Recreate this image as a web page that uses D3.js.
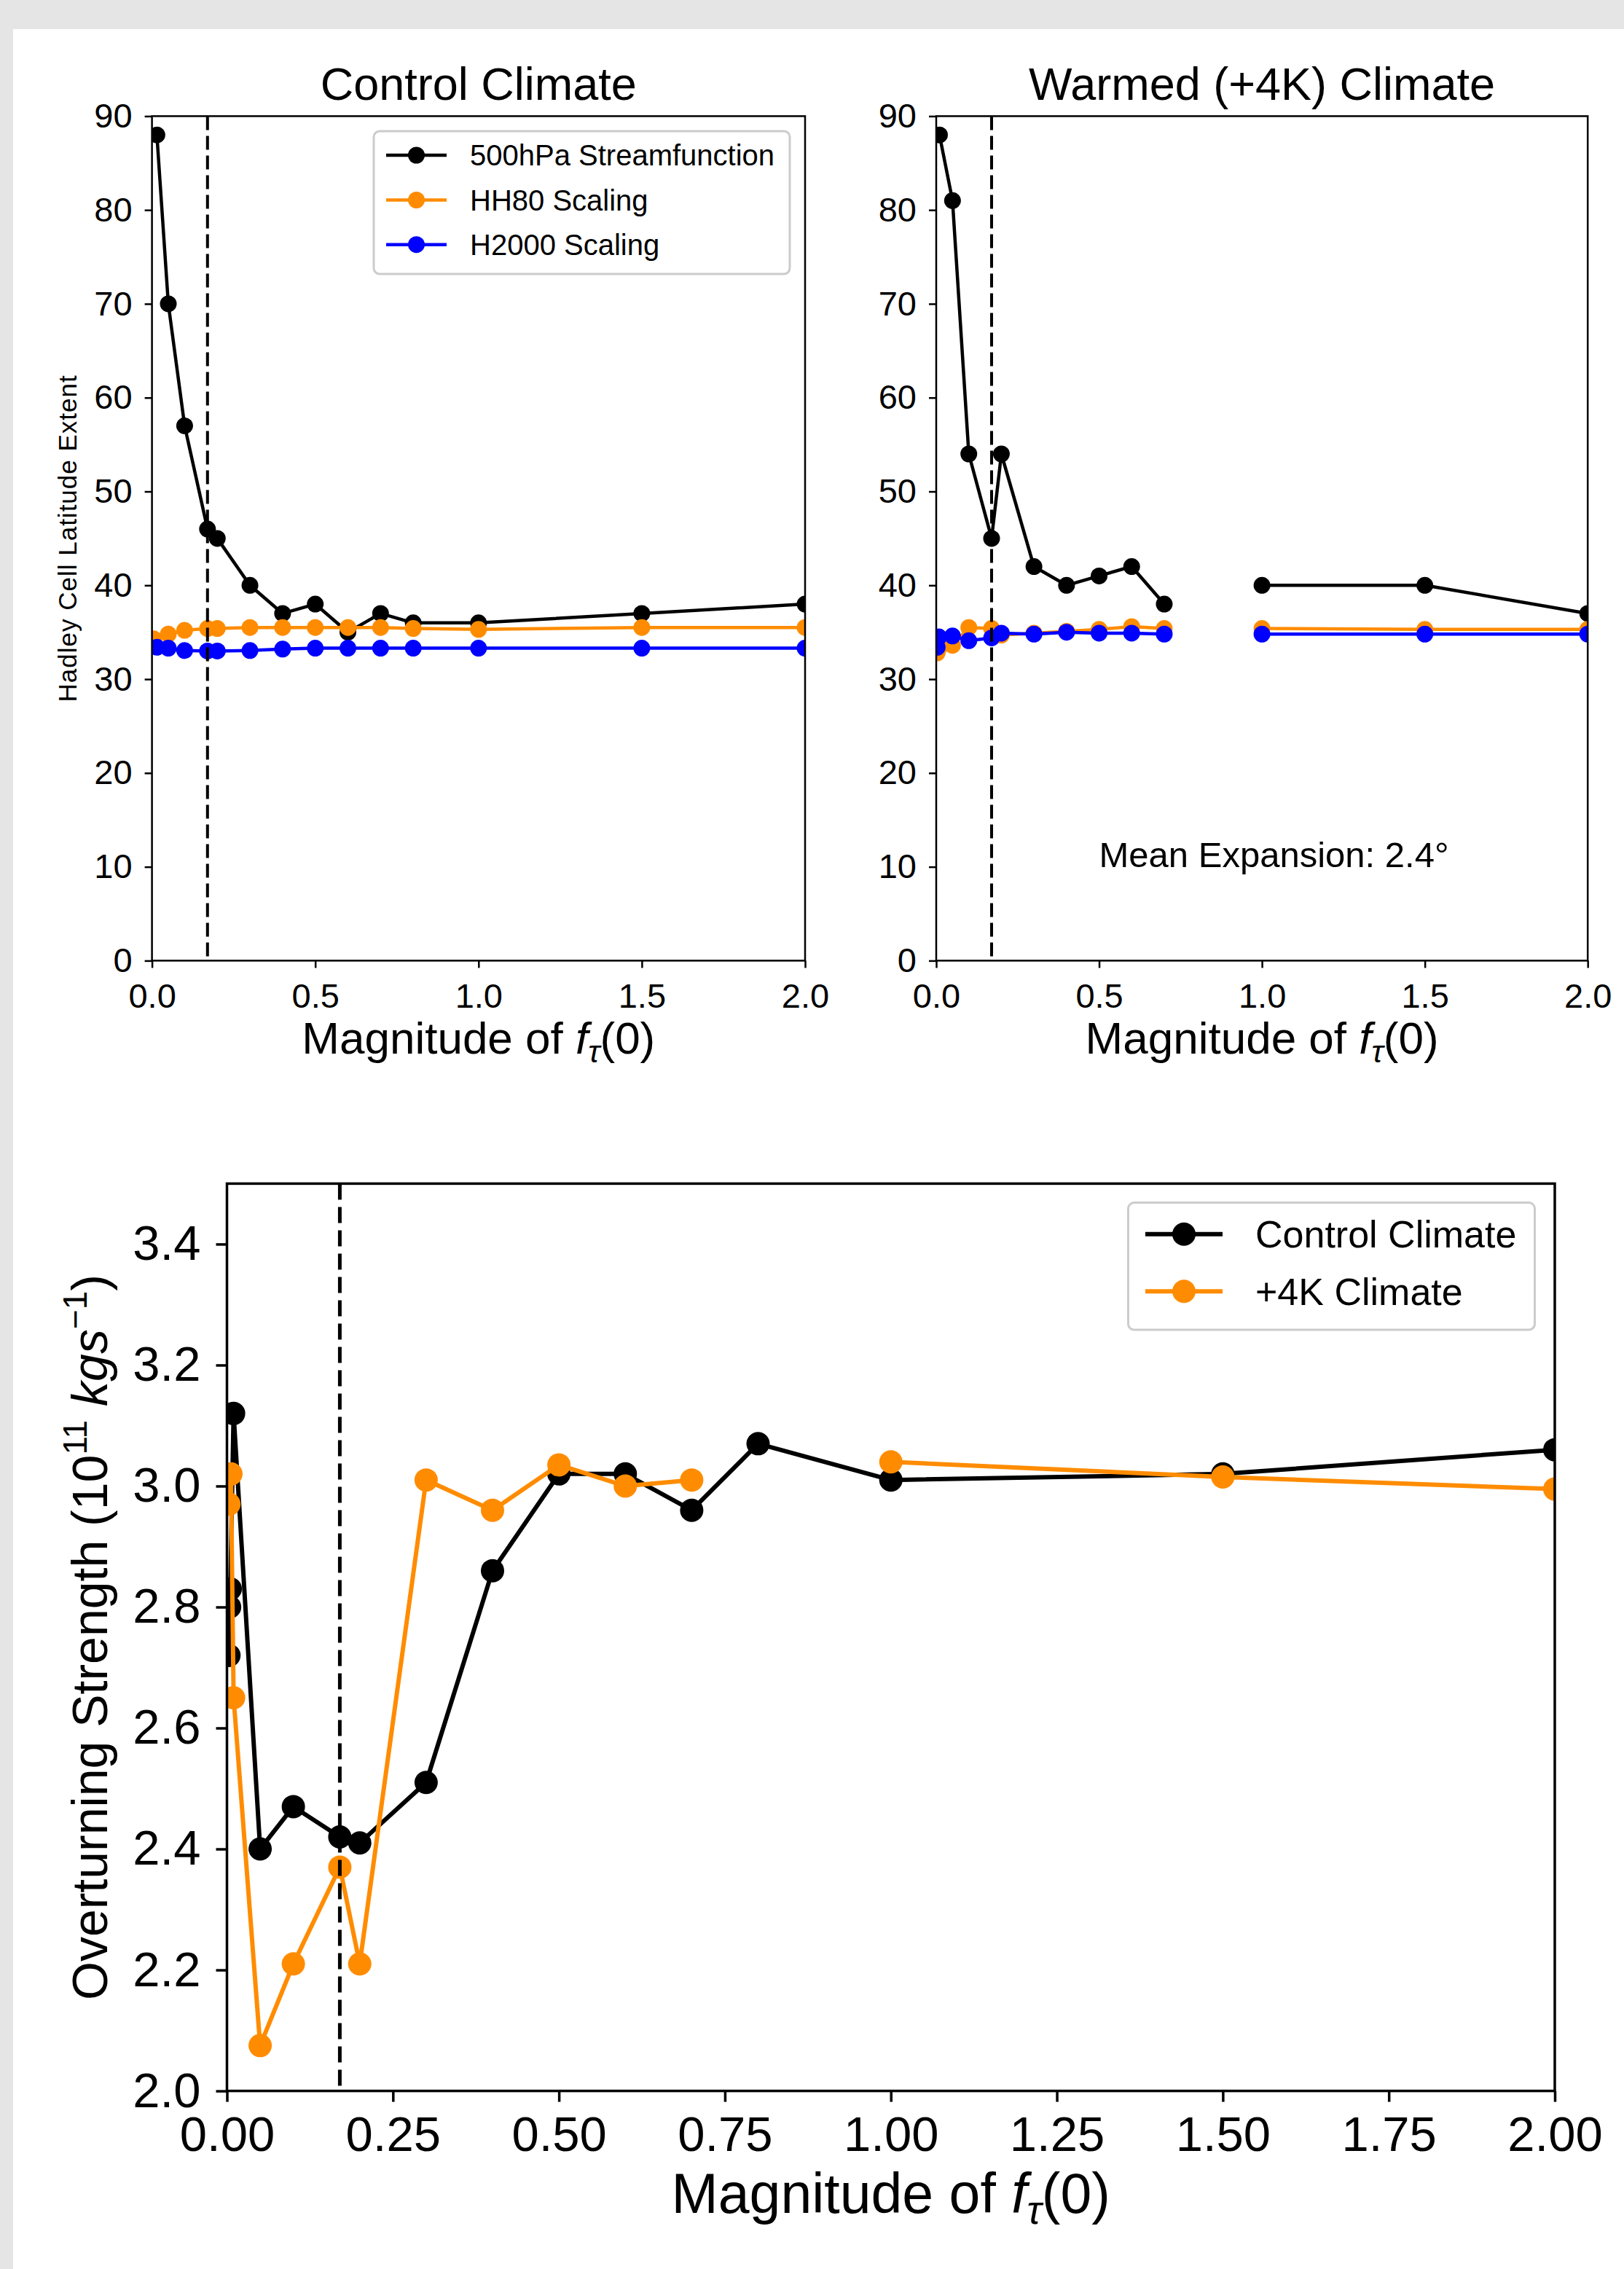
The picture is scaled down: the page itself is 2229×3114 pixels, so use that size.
<!DOCTYPE html>
<html>
<head>
<meta charset="utf-8">
<script src="https://cdn.jsdelivr.net/npm/d3@7/dist/d3.min.js"></script>
<style>
  body { margin: 0; background: #e5e5e5; }
  svg text { font-family: "Liberation Sans", Arial, sans-serif; fill: #000; }
</style>
</head>
<body>
<script>

//---- data ----
// x = magnitude of f_tau(0)
var fCritical = 0.17;

// Control climate, Hadley cell latitude extent (deg)
var ctlStreamX = [0.015, 0.05, 0.1, 0.17, 0.2, 0.3, 0.4, 0.5, 0.6, 0.7, 0.8, 1.0, 1.5, 2.0];
var ctlStream  = [88, 70, 57, 46, 45, 40, 37, 38, 35, 37, 36, 36, 37, 38];
var ctlHH80X   = [0.005, 0.05, 0.1, 0.17, 0.2, 0.3, 0.4, 0.5, 0.6, 0.7, 0.8, 1.0, 1.5, 2.0];
var ctlHH80    = [34.3, 34.8, 35.2, 35.4, 35.4, 35.5, 35.5, 35.5, 35.5, 35.5, 35.4, 35.3, 35.5, 35.5];
var ctlH2000X  = [0.015, 0.05, 0.1, 0.17, 0.2, 0.3, 0.4, 0.5, 0.6, 0.7, 0.8, 1.0, 1.5, 2.0];
var ctlH2000   = [33.4, 33.3, 33.05, 33.0, 33.0, 33.05, 33.2, 33.3, 33.3, 33.3, 33.3, 33.3, 33.3, 33.3];

// Warmed (+4K) climate, null = missing run
var wrmStreamX = [0.01, 0.05, 0.1, 0.17, 0.2, 0.3, 0.4, 0.5, 0.6, 0.7, 0.8, 1.0, 1.5, 2.0];
var wrmStream  = [88, 81, 54, 45, 54, 42, 40, 41, 42, 38, null, 40, 40, 37];
var wrmScaleX  = [0.003, 0.008, 0.05, 0.1, 0.17, 0.2, 0.3, 0.4, 0.5, 0.6, 0.7, 0.8, 1.0, 1.5, 2.0];
var wrmHH80    = [32.8, 33.3, 33.6, 35.5, 35.4, 34.7, 34.9, 35.1, 35.3, 35.6, 35.4, null, 35.4, 35.3, 35.3];
var wrmH2000   = [33.4, 34.5, 34.6, 34.1, 34.4, 34.9, 34.8, 35.0, 34.9, 34.9, 34.8, null, 34.8, 34.8, 34.8];
var meanExpansion = "Mean Expansion: 2.4\u00b0";

// Overturning strength (10^11 kg/s)
var ctlStrengthX = [0.003, 0.004, 0.005, 0.01, 0.05, 0.1, 0.17, 0.2, 0.3, 0.4, 0.5, 0.6, 0.7, 0.8, 1.0, 1.5, 2.0];
var ctlStrength  = [2.72, 2.80, 2.83, 3.12, 2.40, 2.47, 2.42, 2.41, 2.51, 2.86, 3.02, 3.02, 2.96, 3.07, 3.01, 3.02, 3.06];
var wrmStrengthX = [0.003, 0.006, 0.01, 0.05, 0.1, 0.17, 0.2, 0.3, 0.4, 0.5, 0.6, 0.7, 0.8, 1.0, 1.5, 2.0];
var wrmStrength  = [2.97, 3.02, 2.65, 2.075, 2.21, 2.37, 2.21, 3.01, 2.96, 3.035, 3.00, 3.01, null, 3.04, 3.015, 2.995];

// ticks
var latTicks = [0, 10, 20, 30, 40, 50, 60, 70, 80, 90];
var fTicksTop = [0, 0.5, 1.0, 1.5, 2.0];
var fTicksBottom = [0, 0.25, 0.5, 0.75, 1.0, 1.25, 1.5, 1.75, 2.0];
var strengthTicks = [2.0, 2.2, 2.4, 2.6, 2.8, 3.0, 3.2, 3.4];

var topNames = ["500hPa Streamfunction", "HH80 Scaling", "H2000 Scaling"];
var bottomNames = ["Control Climate", "+4K Climate"];
var colors = ["#000000", "#ff8c00", "#0000ff"];

//---- page ----
var width = 2229,
    height = 3114;

var svg = d3.select("body").append("svg")
    .attr("width", width)
    .attr("height", height);

svg.append("rect")
    .attr("x", 0).attr("y", 0)
    .attr("width", width).attr("height", height)
    .attr("fill", "#e5e5e5");
svg.append("rect")
    .attr("x", 18).attr("y", 40)
    .attr("width", width - 18).attr("height", height - 40)
    .attr("fill", "#ffffff");

var clipCount = 0;

// draws lines + dots inside a clipped plot area
function drawSeries(g, x, y, xs, ys, color, lw, r) {
  var pts = d3.zip(xs, ys);
  var line = d3.line()
      .defined(function(d) { return d[1] != null; })
      .x(function(d) { return x(d[0]); })
      .y(function(d) { return y(d[1]); });
  g.append("path")
      .attr("d", line(pts))
      .attr("fill", "none")
      .attr("stroke", color)
      .attr("stroke-width", lw)
      .attr("stroke-linejoin", "round");
  g.selectAll(null)
      .data(pts.filter(function(d) { return d[1] != null; }))
      .enter().append("circle")
      .attr("cx", function(d) { return x(d[0]); })
      .attr("cy", function(d) { return y(d[1]); })
      .attr("r", r)
      .attr("fill", color);
}

function styleAxis(a, fontSize, lw) {
  a.select(".domain").remove();
  a.selectAll(".tick line").attr("stroke", "#000").attr("stroke-width", lw);
  a.selectAll(".tick text")
      .attr("font-size", fontSize)
      .attr("font-family", "Liberation Sans, Arial, sans-serif")
      .attr("fill", "#000");
}

function xLabel(parent, cx, baseline, size) {
  var t = parent.append("text")
      .attr("x", cx).attr("y", baseline)
      .attr("text-anchor", "middle")
      .attr("font-size", size);
  t.append("tspan").text("Magnitude of ");
  t.append("tspan").attr("font-style", "italic").text("f");
  t.append("tspan").attr("font-style", "italic")
      .attr("font-size", size * 0.7).attr("dy", size * 0.2).text("\u03c4");
  t.append("tspan").attr("dy", -size * 0.2).text("(0)");
}

function legendBox(parent, bx, by, bw, bh, rows, names, fontSize, lineX0, lineX1, textX, lw, r) {
  parent.append("rect")
      .attr("x", bx).attr("y", by)
      .attr("width", bw).attr("height", bh)
      .attr("rx", 8).attr("ry", 8)
      .attr("fill", "#ffffff").attr("fill-opacity", 0.8)
      .attr("stroke", "#cccccc").attr("stroke-width", 3);
  names.forEach(function(name, i) {
    parent.append("line")
        .attr("x1", lineX0).attr("x2", lineX1)
        .attr("y1", rows[i]).attr("y2", rows[i])
        .attr("stroke", colors[i]).attr("stroke-width", lw);
    parent.append("circle")
        .attr("cx", (lineX0 + lineX1) / 2).attr("cy", rows[i])
        .attr("r", r).attr("fill", colors[i]);
    parent.append("text")
        .attr("x", textX).attr("y", rows[i])
        .attr("dy", "0.35em")
        .attr("font-size", fontSize)
        .text(name);
  });
}

//---- top panels: Hadley cell extent ----
var topY0 = 159.4, topY1 = 1318.4;

function drawLatPanel(x0, x1, title, series) {
  var x = d3.scaleLinear().domain([0, 2]).range([x0, x1]);
  var y = d3.scaleLinear().domain([0, 90]).range([topY1, topY0]);
  var id = "clip" + (clipCount++);

  svg.append("clipPath").attr("id", id)
    .append("rect")
      .attr("x", x0).attr("y", topY0)
      .attr("width", x1 - x0).attr("height", topY1 - topY0);

  var plot = svg.append("g").attr("clip-path", "url(#" + id + ")");
  series.forEach(function(s, i) {
    drawSeries(plot, x, y, s[0], s[1], colors[i], 4.5, 11.5);
  });
  plot.append("line")
      .attr("x1", x(fCritical)).attr("x2", x(fCritical))
      .attr("y1", topY0).attr("y2", topY1)
      .attr("stroke", "#000").attr("stroke-width", 4)
      .attr("stroke-dasharray", "19,8");

  var ax = svg.append("g")
      .attr("transform", "translate(0," + topY1 + ")")
      .call(d3.axisBottom(x).tickValues(fTicksTop).tickSize(10).tickPadding(21)
            .tickFormat(d3.format(".1f")));
  styleAxis(ax, 47, 2.5);
  var ay = svg.append("g")
      .attr("transform", "translate(" + x0 + ",0)")
      .call(d3.axisLeft(y).tickValues(latTicks).tickSize(10).tickPadding(17)
            .tickFormat(d3.format("d")));
  styleAxis(ay, 47, 2.5);

  svg.append("rect")
      .attr("x", x0).attr("y", topY0)
      .attr("width", x1 - x0).attr("height", topY1 - topY0)
      .attr("fill", "none").attr("stroke", "#000").attr("stroke-width", 2.5);

  svg.append("text")
      .attr("x", (x0 + x1) / 2).attr("y", 137)
      .attr("text-anchor", "middle")
      .attr("font-size", 63)
      .text(title);

  xLabel(svg, (x0 + x1) / 2, 1446, 62);
  return { x: x, y: y };
}

var left = drawLatPanel(208.6, 1105, "Control Climate",
    [[ctlStreamX, ctlStream], [ctlHH80X, ctlHH80], [ctlH2000X, ctlH2000]]);
var right = drawLatPanel(1285, 2179.2, "Warmed (+4K) Climate",
    [[wrmStreamX, wrmStream], [wrmScaleX, wrmHH80], [wrmScaleX, wrmH2000]]);

svg.append("text")
    .attr("transform", "translate(105," + (topY0 + topY1) / 2 + ") rotate(-90)")
    .attr("text-anchor", "middle")
    .attr("font-size", 35)
    .attr("letter-spacing", 1)
    .text("Hadley Cell Latitude Extent");

legendBox(svg, 513, 180, 571, 196, [213, 274.5, 335.7], topNames, 40, 530, 613, 645, 4.5, 11.5);

svg.append("text")
    .attr("x", right.x(0.5)).attr("y", right.y(10))
    .attr("font-size", 49)
    .text(meanExpansion);

//---- bottom panel: overturning strength ----
var bx0 = 311.5, bx1 = 2134, by0 = 1624.4, by1 = 2869.6;
var xB = d3.scaleLinear().domain([0, 2]).range([bx0, bx1]);
var yB = d3.scaleLinear().domain([2.0, 3.5]).range([by1, by0]);

svg.append("clipPath").attr("id", "clipBottom")
  .append("rect")
    .attr("x", bx0).attr("y", by0)
    .attr("width", bx1 - bx0).attr("height", by1 - by0);

var bottomPlot = svg.append("g").attr("clip-path", "url(#clipBottom)");
drawSeries(bottomPlot, xB, yB, ctlStrengthX, ctlStrength, colors[0], 6, 16);
drawSeries(bottomPlot, xB, yB, wrmStrengthX, wrmStrength, colors[1], 6, 16);
bottomPlot.append("line")
    .attr("x1", xB(fCritical)).attr("x2", xB(fCritical))
    .attr("y1", by0).attr("y2", by1)
    .attr("stroke", "#000").attr("stroke-width", 5)
    .attr("stroke-dasharray", "22,10");

var bax = svg.append("g")
    .attr("transform", "translate(0," + by1 + ")")
    .call(d3.axisBottom(xB).tickValues(fTicksBottom).tickSize(15).tickPadding(20)
          .tickFormat(d3.format(".2f")));
styleAxis(bax, 67, 3.5);
var bay = svg.append("g")
    .attr("transform", "translate(" + bx0 + ",0)")
    .call(d3.axisLeft(yB).tickValues(strengthTicks).tickSize(15).tickPadding(21)
          .tickFormat(d3.format(".1f")));
styleAxis(bay, 67, 3.5);

svg.append("rect")
    .attr("x", bx0).attr("y", by0)
    .attr("width", bx1 - bx0).attr("height", by1 - by0)
    .attr("fill", "none").attr("stroke", "#000").attr("stroke-width", 3.5);

xLabel(svg, (bx0 + bx1) / 2, 3037, 77);

var yl = svg.append("text")
    .attr("transform", "translate(147," + (by0 + by1) / 2 + ") rotate(-90)")
    .attr("text-anchor", "middle")
    .attr("font-size", 68);
yl.append("tspan").text("Overturning Strength (10");
yl.append("tspan").attr("font-size", 46).attr("dy", -28).text("11");
yl.append("tspan").attr("dy", 28).text(" ");
yl.append("tspan").attr("font-style", "italic").text("kgs");
yl.append("tspan").attr("font-size", 46).attr("dy", -28).text("\u22121");
yl.append("tspan").attr("dy", 28).text(")");

legendBox(svg, 1548.5, 1650.6, 558, 174.4, [1693.7, 1772.3], bottomNames, 52, 1572, 1678, 1723, 6, 16);

</script>
</body>
</html>
